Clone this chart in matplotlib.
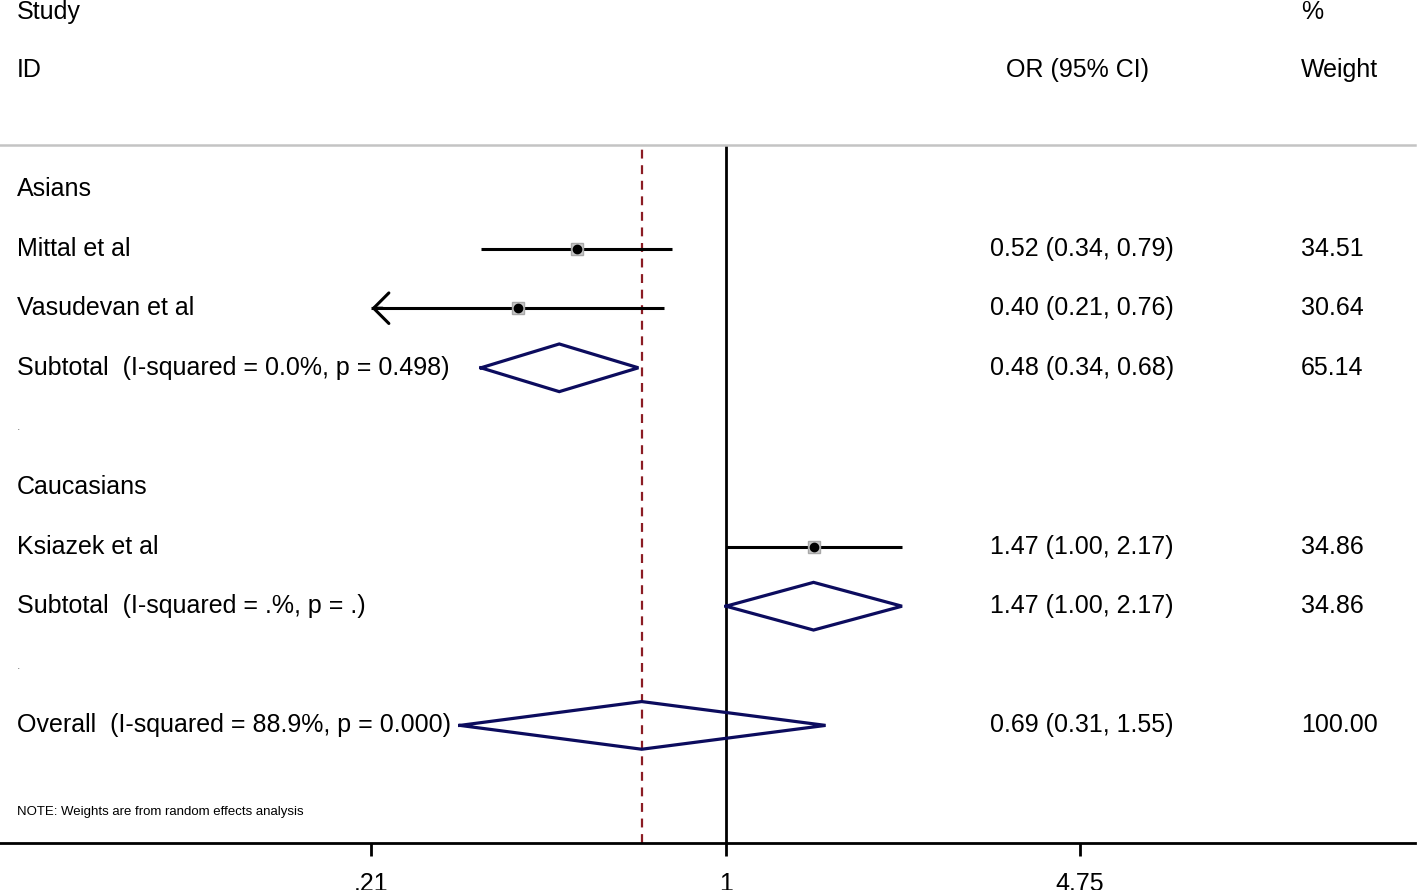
import numpy as np
import matplotlib
matplotlib.use("Agg")
from matplotlib import pyplot as plt

plt.rcParams['font.family'] = ['Liberation Sans', 'DejaVu Sans']

# Rows, top to bottom (row index = position in the table)
labels = ["Asians", "Mittal et al", "Vasudevan et al",
          "Subtotal  (I-squared = 0.0%, p = 0.498)", ".",
          "Caucasians", "Ksiazek et al",
          "Subtotal  (I-squared = .%, p = .)", ".",
          "Overall  (I-squared = 88.9%, p = 0.000)"]
or_text = ["", "0.52 (0.34, 0.79)", "0.40 (0.21, 0.76)", "0.48 (0.34, 0.68)", "",
           "", "1.47 (1.00, 2.17)", "1.47 (1.00, 2.17)", "",
           "0.69 (0.31, 1.55)"]
weight_text = ["", "34.51", "30.64", "65.14", "",
               "", "34.86", "34.86", "", "100.00"]

# individual studies
study_rows = [1, 2, 6]
study_or = [0.52, 0.40, 1.47]
study_lo = [0.34, 0.21, 1.00]
study_hi = [0.79, 0.76, 2.17]

# pooled estimates (diamonds)
pool_rows = [3, 7, 9]
pool_or = [0.48, 1.47, 0.69]
pool_lo = [0.34, 1.00, 0.31]
pool_hi = [0.68, 2.17, 1.55]

overall_or = 0.69
ticks = [0.21, 1, 4.75]
tick_labels = [".21", "1", "4.75"]

FS = 18
W, H = 1417, 890
fig = plt.figure(figsize=(W / 100, H / 100), dpi=100)
ax = fig.add_axes([0, 47 / H, 1415 / W, (843 - 145) / H])

# x scale: 1 at 726 px, 4.75 at 1080 px
ppl = 354 / np.log(4.75)
ax.set_xscale('log')
ax.set_xlim(np.exp(-726 / ppl), np.exp((1415 - 726) / ppl))
row0, step = 189, 59.6
ax.set_ylim((843 - row0) / step, (145 - row0) / step)

for s in ['left', 'right']:
    ax.spines[s].set_visible(False)
ax.spines['top'].set_color('#c4c4c4')
ax.spines['top'].set_linewidth(1.8)
ax.spines['bottom'].set_linewidth(2)
ax.set_yticks([])
ax.set_xticks(ticks)
ax.set_xticklabels(tick_labels)
ax.xaxis.set_minor_locator(matplotlib.ticker.NullLocator())
ax.tick_params(axis='x', direction='out', length=9, width=2, labelsize=FS, pad=12)

ax.axvline(1, color='black', lw=2)
ax.axvline(overall_or, color='#8b1c24', lw=1.6, dashes=(4, 3))

for r, o, lo, hi in zip(study_rows, study_or, study_lo, study_hi):
    ax.plot([lo, hi], [r, r], color='black', lw=2.2, solid_capstyle='butt')
    if lo <= ticks[0]:
        # CI runs past the axis limit: open arrow head
        ax.annotate('', xy=(lo, r), xytext=(lo * 1.05, r),
                    arrowprops=dict(arrowstyle='->,head_length=0.55,head_width=0.55',
                                    lw=2.2, color='black', mutation_scale=20,
                                    shrinkA=0, shrinkB=0))
    ax.plot(o, r, marker='s', ms=8, mfc='#c8c8c8', mec='#a8a8a8', mew=1)
    ax.plot(o, r, marker='o', ms=6, color='black')

hh = 0.4
for r, o, lo, hi in zip(pool_rows, pool_or, pool_lo, pool_hi):
    ax.plot([lo, o, hi, o, lo], [r, r - hh, r, r + hh, r],
            color='#0c0c5e', lw=2.3, solid_joinstyle='miter')

tx = ax.get_yaxis_transform()  # x in axes fraction, y in data
fx = lambda px: px / 1415
for i, lab in enumerate(labels):
    if lab == ".":
        ax.text(fx(17), i, ".", transform=tx, fontsize=9, color='#777777',
                va='center', ha='left')
    else:
        ax.text(fx(17), i, lab, transform=tx, fontsize=FS, va='center', ha='left')
    if or_text[i]:
        ax.text(fx(990), i, or_text[i], transform=tx, fontsize=FS, va='center')
    if weight_text[i]:
        ax.text(fx(1301), i, weight_text[i], transform=tx, fontsize=FS, va='center')

ax.text(fx(17), (12 - row0) / step, "Study", transform=tx, fontsize=FS, va='center')
ax.text(fx(17), (70 - row0) / step, "ID", transform=tx, fontsize=FS, va='center')
ax.text(fx(1301), (12 - row0) / step, "%", transform=tx, fontsize=FS, va='center')
ax.text(fx(1301), (70 - row0) / step, "Weight", transform=tx, fontsize=FS, va='center')
ax.text(fx(1006), (70 - row0) / step, "OR (95% CI)", transform=tx, fontsize=FS, va='center')
ax.text(fx(17), (812 - row0) / step, "NOTE: Weights are from random effects analysis",
        transform=tx, fontsize=9.5, va='center')

fig.savefig("out.png", dpi=100)
